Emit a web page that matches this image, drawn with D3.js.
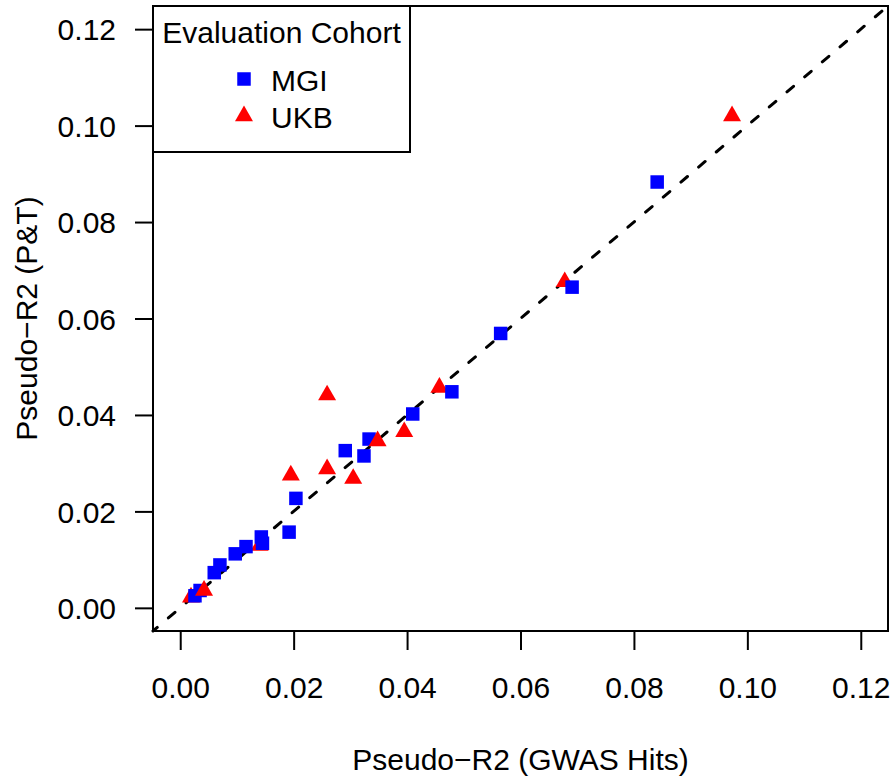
<!DOCTYPE html>
<html>
<head>
<meta charset="utf-8">
<script src="https://cdn.jsdelivr.net/npm/d3@7"></script>
<style>
  body { margin: 0; background: #fff; }
  text { font-family: "Liberation Sans", Arial, Helvetica, sans-serif; fill: #000; }
</style>
</head>
<body>
<div class="container"></div>
<script>
// points in plotting order (later ones drawn on top)
var cohort = ['UKB','MGI','UKB','MGI','MGI','UKB','MGI','MGI','UKB','MGI',
              'UKB','MGI','MGI','UKB','UKB','UKB','UKB','MGI','MGI','UKB',
              'MGI','MGI','MGI','MGI','MGI','MGI','UKB','MGI','MGI','UKB'];
var gwasR2 = [0.0973, 0.0841, 0.0678, 0.0691, 0.0565, 0.0457, 0.0479, 0.0410, 0.0395, 0.0333,
              0.0348, 0.0291, 0.0324, 0.0259, 0.0259, 0.0305, 0.0195, 0.0204, 0.0192, 0.0140,
              0.0143, 0.0145, 0.0116, 0.0097, 0.0070, 0.0060, 0.0019, 0.0026, 0.0035, 0.0042];
var ptR2   = [0.1020, 0.0883, 0.0676, 0.0665, 0.0569, 0.0457, 0.0448, 0.0402, 0.0365, 0.0350,
              0.0346, 0.0326, 0.0315, 0.0441, 0.0288, 0.0268, 0.0275, 0.0227, 0.0157, 0.0129,
              0.0147, 0.0134, 0.0127, 0.0112, 0.0089, 0.0073, 0.0022, 0.0025, 0.0036, 0.0036];

var tickValues = [0, 0.02, 0.04, 0.06, 0.08, 0.10, 0.12];
var legendTitle = 'Evaluation Cohort';
var legendLabels = ['MGI', 'UKB'];
var xTitle = 'Pseudo\u2212R2 (GWAS Hits)';
var yTitle = 'Pseudo\u2212R2 (P&T)';

const WIDTH = 894;
const HEIGHT = 780;
const LEFT = 153, RIGHT = 888, TOP = 6, BOTTOM = 631;
const FONT = 30;

var colors = { MGI: '#0000ff', UKB: '#ff0000' };
var shapes = { MGI: d3.symbol().type(d3.symbolSquare).size(13.5 * 13.5),
               UKB: d3.symbol().type(d3.symbolTriangle).size(140) };

var xScale = d3.scaleLinear().domain([-0.0048, 0.1248]).range([LEFT, RIGHT]);
var yScale = d3.scaleLinear().domain([-0.0048, 0.1248]).range([BOTTOM, TOP]);

var svg = d3.select('.container').append('svg')
    .attr('width', WIDTH)
    .attr('height', HEIGHT);

svg.append('rect').attr('width', WIDTH).attr('height', HEIGHT).attr('fill', '#fff');

// axes
var xAxis = svg.append('g')
    .attr('transform', 'translate(0,' + BOTTOM + ')')
    .call(d3.axisBottom(xScale).tickValues(tickValues).tickFormat(d3.format('.2f'))
        .tickSize(19).tickSizeOuter(0).tickPadding(27));
var yAxis = svg.append('g')
    .attr('transform', 'translate(' + LEFT + ',0)')
    .call(d3.axisLeft(yScale).tickValues(tickValues).tickFormat(d3.format('.2f'))
        .tickSize(18).tickSizeOuter(0).tickPadding(19));

[xAxis, yAxis].forEach(function (g) {
    g.select('.domain').remove();
    g.selectAll('line').attr('stroke', '#000').attr('stroke-width', 2);
    g.selectAll('text').attr('font-size', FONT).attr('font-family', null).attr('fill', '#000');
});
yAxis.selectAll('text').attr('dy', '0.36em');

// axis titles
svg.append('text')
    .attr('x', (LEFT + RIGHT) / 2).attr('y', 770)
    .attr('text-anchor', 'middle').attr('font-size', FONT)
    .text(xTitle);
svg.append('text')
    .attr('transform', 'translate(37,' + ((TOP + BOTTOM) / 2) + ') rotate(-90)')
    .attr('text-anchor', 'middle').attr('font-size', FONT)
    .text(yTitle);

// y = x reference line
var lims = xScale.domain();
var line = d3.line()
    .x(function (d) { return xScale(d); })
    .y(function (d) { return yScale(d); });
svg.append('path')
    .attr('d', line(lims))
    .attr('fill', 'none')
    .attr('stroke', '#000')
    .attr('stroke-width', 3)
    .attr('stroke-linecap', 'round')
    .attr('stroke-dasharray', '8.6 14.6')
    .attr('stroke-dashoffset', 3);

// points
svg.append('g').selectAll('path')
    .data(d3.range(gwasR2.length))
    .enter().append('path')
    .attr('transform', function (i) {
        return 'translate(' + xScale(gwasR2[i]) + ',' + yScale(ptR2[i]) + ')';
    })
    .attr('d', function (i) { return shapes[cohort[i]](); })
    .attr('fill', function (i) { return colors[cohort[i]]; });

// frame
svg.append('rect')
    .attr('x', LEFT).attr('y', TOP)
    .attr('width', RIGHT - LEFT).attr('height', BOTTOM - TOP)
    .attr('fill', 'none').attr('stroke', '#000').attr('stroke-width', 2);

// legend
var legend = svg.append('g');
legend.append('rect')
    .attr('x', LEFT).attr('y', TOP)
    .attr('width', 410 - LEFT).attr('height', 152 - TOP)
    .attr('fill', '#fff').attr('stroke', '#000').attr('stroke-width', 2);
legend.append('text')
    .attr('x', (LEFT + 410) / 2).attr('y', 43)
    .attr('text-anchor', 'middle').attr('font-size', FONT)
    .text(legendTitle);
var rows = legend.selectAll('g.row').data(legendLabels)
    .enter().append('g')
    .attr('transform', function (d, i) { return 'translate(0,' + (i * 37) + ')'; });
rows.append('path')
    .attr('transform', function (d) { return 'translate(244,' + (d === 'MGI' ? 79 : 79) + ')'; })
    .attr('d', function (d) { return shapes[d](); })
    .attr('fill', function (d) { return colors[d]; });
rows.append('text')
    .attr('x', 271).attr('y', 90.5)
    .attr('font-size', FONT)
    .text(function (d) { return d; });
</script>
</body>
</html>
